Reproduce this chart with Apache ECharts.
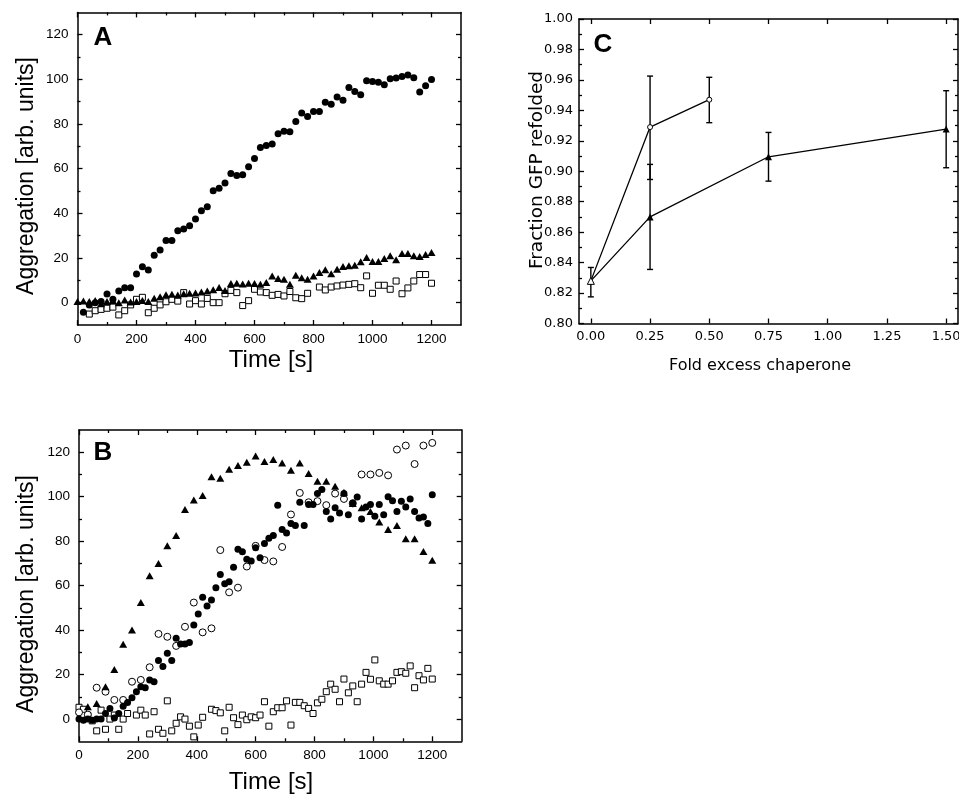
<!DOCTYPE html>
<html><head><meta charset="utf-8">
<script src="https://cdn.jsdelivr.net/npm/echarts@6/dist/echarts.min.js"></script>
<style>html,body{margin:0;padding:0;background:#fff}#c{width:959px;height:801px}</style>
</head><body><div id="c"></div>
<script>
// ---------- Panel A ----------
const aCircT = [20,40,60,80,100,120,140,160,180,200,220,240,260,280,300,320,340,360,380,400,420,440,460,480,500,520,540,560,580,600,620,640,660,680,700,720,740,760,780,800,820,840,860,880,900,920,940,960,980,1000,1020,1040,1060,1080,1100,1120,1140,1160,1180,1200];
const aCircY = [-4.3,-1,0,0.5,3.9,1.5,5.2,6.7,6.7,12.8,16.1,14.6,21.2,23.6,27.8,27.8,32.2,33,34.5,37.5,41.2,43,50.1,51.2,53.6,57.9,56.9,57.3,60.9,64.6,69.5,70.4,71.1,75.6,76.8,76.6,81.1,84.9,83.4,85.6,85.6,89.8,88.9,92.1,90.6,96.4,94.6,93.1,99.4,99.1,98.7,97.6,100.3,100.6,101.3,102,100.7,94.3,97.2,100];
const aTriT = [0,20,40,60,80,100,120,140,160,180,200,220,240,260,280,300,320,340,360,380,400,420,440,460,480,500,520,540,560,580,600,620,640,660,680,700,720,740,760,780,800,820,840,860,880,900,920,940,960,980,1000,1020,1040,1060,1080,1100,1120,1140,1160,1180,1200];
const aTriY = [0.5,0.8,0.5,1,-0.5,0.5,1,0,1.2,0.3,0.5,1,0.5,2,2.7,3.5,3.8,3.4,4,4.2,4.3,4.8,5.2,5.8,6.8,5.5,8.6,8.7,8.4,8.7,8.6,8.2,9,12,10.8,10.5,8.2,12.3,11.2,10.5,12,13.5,14.7,13,15,16.2,16.5,16.8,18.3,20.2,18.4,18.4,19.8,21,19.2,22,22,21,20.7,21.6,22.5];
const aSqT = [40,60,80,100,120,140,160,180,200,220,240,260,280,300,320,340,360,380,400,420,440,460,480,500,520,540,560,580,600,620,640,660,680,700,720,740,760,780,820,840,860,880,900,920,940,960,980,1000,1020,1040,1060,1080,1100,1120,1140,1160,1180,1200];
const aSqY = [-5.1,-3.6,-3,-2.5,-2,-5.5,-3.6,-1,1.5,2.4,-4.5,-2.5,-1,0.4,1.5,0.7,4.5,-0.6,0.9,-0.6,1.9,0,0,4,5.5,4.5,-1.3,0.9,6,4.8,4.5,3.3,3.7,3,5,2.2,1.8,4.2,7,5.7,7,7.5,7.9,8.2,8.5,6.7,12,4.2,7.8,7.8,6,9.7,4,6.6,9.7,12.6,12.6,8.7];

// ---------- Panel B ----------
const bFillT = [0,15,30,45,60,75,90,105,120,135,150,165,180,195,210,225,240,255,270,285,300,315,330,345,360,375,390,405,420,435,450,465,480,495,510,525,540,555,570,585,600,615,630,645,660,675,690,705,720,735,750,765,780,795,810,825,840,855,870,885,900,915,930,945,960,975,990,1005,1020,1035,1050,1065,1080,1095,1110,1125,1140,1155,1170,1185,1200];
const bFillY = [0,-0.5,0,-0.5,0,0,2.5,4.8,0.5,2.5,5.8,7.5,9.6,12.3,14.5,14.1,17.6,16.8,26.3,23.6,29.6,26.3,36.3,33.8,33.8,34.4,42.3,47.3,54.8,50.9,53.6,59.1,65,60.8,61.8,68.3,76.4,75.3,71.9,71.1,77.1,72.6,78.9,81.3,82.5,96.2,85.2,83.7,87.9,87.1,97.5,87.1,96.5,96.5,101.4,103.2,93.4,90,95,92.7,101.4,91.9,97.2,99.9,90,95.4,96.5,91.2,96.5,91.9,100,98.2,93.4,98,95.4,99,93.4,90.4,90.9,87.9,100.9];
const bOpenT = [0,30,60,90,120,150,180,210,240,270,300,330,360,390,420,450,480,510,540,570,600,630,660,690,720,750,780,810,840,870,900,930,960,990,1020,1050,1080,1110,1140,1170,1200];
const bOpenY = [3,2,14.1,12.3,8.6,8.6,16.8,17.6,23.3,38.3,37,32.9,41.5,52.4,39,40.8,76,57,59.1,68.6,77.9,71.5,70.9,77.4,92,101.7,97.5,98,96.2,101.4,99,97,110,110,110.7,109.6,121.2,123,114.7,123,124.2];
const bTriT = [30,60,90,120,150,180,210,240,270,300,330,360,390,420,450,480,510,540,570,600,630,660,690,720,750,780,810,840,870,900,930,960,990,1020,1050,1080,1110,1140,1170,1200];
const bTriY = [5.5,7,14.5,22.3,33.7,40,52.4,64.4,70,78,82.6,94.3,98.5,100.5,109,108.3,112.4,114,115.5,118.3,115.8,116.7,115.2,111.9,115.2,110.4,107,107,104.7,102,97,95,93.4,88.6,85.2,87,81.1,81.1,75.4,71.4];
const bSqT = [0,15,30,45,60,75,90,105,120,135,150,165,195,210,225,240,255,270,285,300,315,330,345,360,375,390,405,420,450,465,480,495,510,525,540,555,570,585,600,615,630,645,660,675,690,705,720,735,750,765,780,795,810,825,840,855,870,885,900,915,930,945,960,975,990,1005,1020,1035,1050,1065,1080,1095,1110,1125,1140,1155,1170,1185,1200];
const bSqY = [5.3,4.4,1.5,-0.8,-5.3,4,-4.6,0,1.8,-4.6,0,2.5,1.8,4,1.8,-6.7,3.3,-4.6,-6.4,8.2,-5.3,-1.9,1,0,-3.2,-8,-2.7,0.8,4.4,3.8,2.8,-5.3,5.3,0.6,-2.5,1.8,-0.3,1,0.6,1.8,7.8,-3.2,3.3,5.1,5.1,8.2,-2.7,7.5,7.5,6,4.8,2.5,7.3,8.9,12.3,15.7,13.4,7.8,18,11.8,14.9,7.8,15.7,21,17.9,26.6,17.2,15.7,15.7,17.2,21,21.3,20.6,23.9,14.1,19.5,17.6,22.8,18];

// ---------- Panel C ----------
const cCircX = [0, 0.25, 0.5];
const cCircY = [0.828, 0.929, 0.947];
const cTriX = [0, 0.25, 0.75, 1.5];
const cTriY = [0.828, 0.870, 0.9095, 0.9277];
const cErrX  = [0, 0.25, 0.25, 0.5, 0.75, 1.5];
const cErrLo = [0.8175, 0.8946, 0.8355, 0.9319, 0.8935, 0.9023];
const cErrHi = [0.8368, 0.9625, 0.9045, 0.9617, 0.9255, 0.9529];

// ---------- Ticks ----------
const timeMajor = [0,200,400,600,800,1000,1200];
const timeMinor = [100,300,500,700,900,1100];
const aggMajor = [0,20,40,60,80,100,120];
const aggMinor = [10,30,50,70,90,110];
const foldMajor = [0,0.25,0.5,0.75,1,1.25,1.5];
const fracMajor = [0.80,0.82,0.84,0.86,0.88,0.90,0.92,0.94,0.96,0.98,1.00];
const fracMinor = [0.81,0.83,0.85,0.87,0.89,0.91,0.93,0.95,0.97,0.99];

const zip = (a, b) => a.map((v, i) => [v, b[i]]);
const BLACK = '#000';
const xAxes = [], yAxes = [];

function addAxes(list, gridIndex, pos, min, max, ticks, len, withLine, label) {
  const ax = {
    type: 'value', gridIndex, position: pos, min, max,
    axisLine: { show: withLine, onZero: false, lineStyle: { color: BLACK, width: 1.5 } },
    axisTick: { show: ticks.length > 0, inside: true, length: len, customValues: ticks, lineStyle: { color: BLACK, width: 1.3 } },
    axisLabel: label ? Object.assign({ show: true, customValues: ticks, color: BLACK }, label) : { show: false },
    splitLine: { show: false }, minorTick: { show: false }
  };
  list.push(ax);
  return list.length - 1;
}

function panelAxes(g, xr, yr, xMaj, xMin, yMaj, yMin, xLab, yLab) {
  const xi = addAxes(xAxes, g, 'bottom', xr[0], xr[1], xMaj, 5, true, xLab);
  if (xMin.length) addAxes(xAxes, g, 'bottom', xr[0], xr[1], xMin, 3, false, null);
  addAxes(xAxes, g, 'top', xr[0], xr[1], xMaj, 5, true, null);
  if (xMin.length) addAxes(xAxes, g, 'top', xr[0], xr[1], xMin, 3, false, null);
  const yi = addAxes(yAxes, g, 'left', yr[0], yr[1], yMaj, 5, true, yLab);
  if (yMin.length) addAxes(yAxes, g, 'left', yr[0], yr[1], yMin, 3, false, null);
  addAxes(yAxes, g, 'right', yr[0], yr[1], yMaj, 5, true, null);
  if (yMin.length) addAxes(yAxes, g, 'right', yr[0], yr[1], yMin, 3, false, null);
  return [xi, yi];
}

const abFont = 'Liberation Sans, Arial, sans-serif';
const cFont = 'DejaVu Sans, sans-serif';
const plain = v => String(Math.round(v));
const abX = { fontSize: 13.5, fontFamily: abFont, margin: 7, formatter: plain };
const abY = { fontSize: 13.5, fontFamily: abFont, margin: 9, formatter: plain };

const [axA, ayA] = panelAxes(0, [0, 1300], [-10, 130], timeMajor, timeMinor, aggMajor, aggMinor, abX, abY);
const [axB, ayB] = panelAxes(1, [0, 1300], [-10, 130], timeMajor, timeMinor, aggMajor, aggMinor, abX, abY);
const [axC, ayC] = panelAxes(2, [-0.05, 1.55], [0.80, 1.00], foldMajor, [], fracMajor, fracMinor,
  { fontSize: 13, fontFamily: cFont, margin: 7, formatter: v => v.toFixed(2) },
  { fontSize: 13, fontFamily: cFont, margin: 6, formatter: v => v.toFixed(2) });

const filled = { color: BLACK, opacity: 1 };
const open = { color: '#fff', borderColor: BLACK, borderWidth: 1, opacity: 1 };
function sc(xi, yi, data, symbol, size, style, z) {
  return { type: 'scatter', xAxisIndex: xi, yAxisIndex: yi, data, symbol, symbolSize: size, itemStyle: style, z: z || 2, silent: true };
}

const series = [
  sc(axA, ayA, zip(aSqT, aSqY), 'rect', 6, open, 2),
  sc(axA, ayA, zip(aCircT, aCircY), 'circle', 7, filled, 3),
  sc(axA, ayA, zip(aTriT, aTriY), 'triangle', [8, 7], filled, 4),
  sc(axB, ayB, zip(bSqT, bSqY), 'rect', 6, open, 2),
  sc(axB, ayB, zip(bOpenT, bOpenY), 'circle', 7, open, 3),
  sc(axB, ayB, zip(bFillT, bFillY), 'circle', 7, filled, 4),
  sc(axB, ayB, zip(bTriT, bTriY), 'triangle', [8, 7], filled, 5),
  {
    type: 'custom', xAxisIndex: axC, yAxisIndex: ayC, silent: true,
    data: cErrX.map((x, i) => [x, cErrLo[i], cErrHi[i]]),
    encode: { x: 0, y: [1, 2] },
    renderItem: (params, api) => {
      const x = api.value(0);
      const p1 = api.coord([x, api.value(2)]);
      const p2 = api.coord([x, api.value(1)]);
      const w = 3, st = { stroke: BLACK, lineWidth: 1.4 };
      return { type: 'group', children: [
        { type: 'line', shape: { x1: p1[0], y1: p1[1], x2: p2[0], y2: p2[1] }, style: st },
        { type: 'line', shape: { x1: p1[0] - w, y1: p1[1], x2: p1[0] + w, y2: p1[1] }, style: st },
        { type: 'line', shape: { x1: p2[0] - w, y1: p2[1], x2: p2[0] + w, y2: p2[1] }, style: st }
      ]};
    }
  },
  {
    type: 'line', xAxisIndex: axC, yAxisIndex: ayC, silent: true, z: 3,
    data: cCircX.map((x, i) => i === 0 ? { value: [x, cCircY[i]], symbol: 'none' } : [x, cCircY[i]]),
    symbol: 'circle', symbolSize: 5, showSymbol: true,
    itemStyle: { color: '#fff', borderColor: BLACK, borderWidth: 1 },
    lineStyle: { color: BLACK, width: 1.3 }
  },
  {
    type: 'line', xAxisIndex: axC, yAxisIndex: ayC, silent: true, z: 4,
    data: cTriX.map((x, i) => i === 0 ? { value: [x, cTriY[i]], itemStyle: { color: '#fff', borderColor: BLACK, borderWidth: 1 } } : [x, cTriY[i]]),
    symbol: 'triangle', symbolSize: [7, 7], showSymbol: true,
    itemStyle: { color: BLACK },
    lineStyle: { color: BLACK, width: 1.3 }
  }
];

function txt(x, y, text, size, font, weight, rot) {
  return { type: 'text', x, y, rotation: rot || 0, silent: true,
    style: { text, fontSize: size, fontFamily: font, fontWeight: weight || 'normal', fill: BLACK, align: 'center', verticalAlign: 'middle' } };
}

const chart = echarts.init(document.getElementById('c'), null, { renderer: 'canvas' });
chart.setOption({
  animation: false,
  backgroundColor: '#fff',
  grid: [
    { left: 77.5, top: 12.4, width: 383.5, height: 312.6, outerBoundsMode: 'none', containLabel: false },
    { left: 79, top: 430, width: 382.7, height: 311.3, outerBoundsMode: 'none', containLabel: false },
    { left: 579, top: 19, width: 379, height: 304.5, outerBoundsMode: 'none', containLabel: false }
  ],
  xAxis: xAxes,
  yAxis: yAxes,
  series,
  graphic: [
    txt(103, 38, 'A', 26, abFont, 'bold'),
    txt(103, 453, 'B', 26, abFont, 'bold'),
    txt(603, 45, 'C', 26, abFont, 'bold'),
    txt(271, 360, 'Time [s]', 24, abFont),
    txt(271, 782, 'Time [s]', 24, abFont),
    txt(27, 176, 'Aggregation [arb. units]', 23, abFont, 'normal', Math.PI / 2),
    txt(27, 594, 'Aggregation [arb. units]', 23, abFont, 'normal', Math.PI / 2),
    txt(760, 366, 'Fold excess chaperone', 16, cFont),
    txt(537, 170, 'Fraction GFP refolded', 18.5, cFont, 'normal', Math.PI / 2)
  ]
});
</script></body></html>
